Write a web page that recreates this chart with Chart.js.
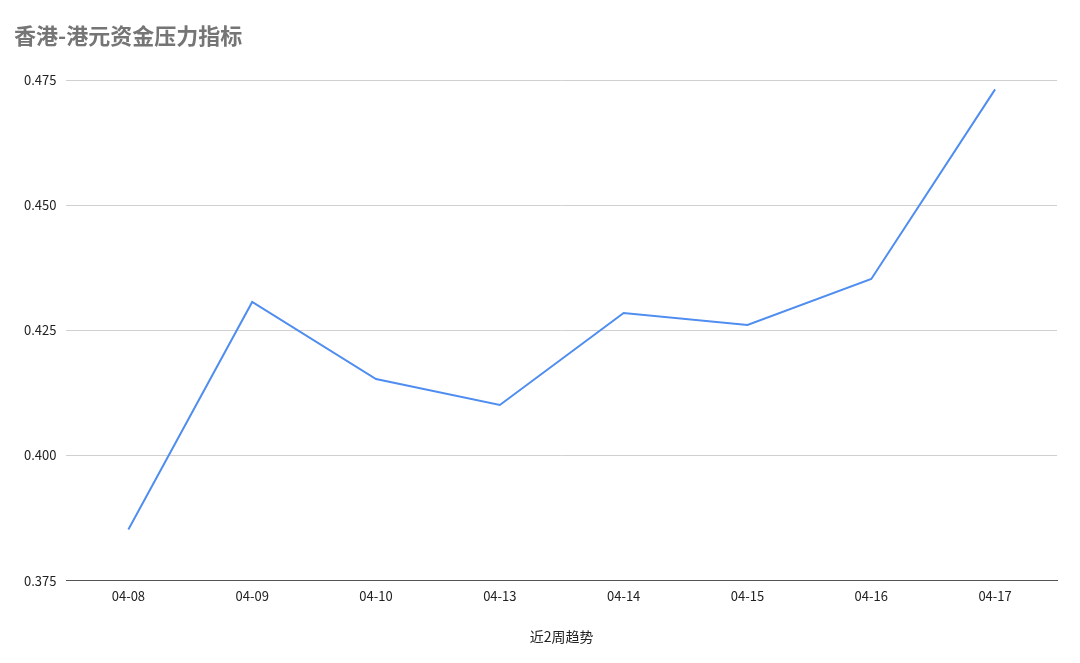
<!DOCTYPE html>
<html>
<head>
<meta charset="utf-8">
<script src="https://cdn.jsdelivr.net/npm/chart.js@4"></script>
<style>
  html, body { margin: 0; padding: 0; background: #fff; }
  #wrap { position: relative; width: 1080px; height: 663px; }
</style>
</head>
<body>
<div id="wrap"><canvas id="myChart" width="1080" height="663"></canvas></div>
<script>
// data
const categories = ["04-08", "04-09", "04-10", "04-13", "04-14", "04-15", "04-16", "04-17"];
const pressure = [0.3852, 0.4307, 0.4153, 0.4101, 0.4285, 0.4261, 0.4353, 0.4732];
const yTicks = [0.375, 0.400, 0.425, 0.450, 0.475];

const ctx = document.getElementById("myChart").getContext("2d");
new Chart(ctx, {
  type: "line",
  data: {
    labels: categories,
    datasets: [{
      label: "香港-港元资金压力指标",
      data: pressure,
      borderColor: "#4f8ef0",
      borderWidth: 2,
      pointRadius: 0,
      tension: 0,
      fill: false
    }]
  },
  options: {
    responsive: false,
    animation: false,
    layout: { padding: { left: 14, right: 23, top: 8, bottom: 14 } },
    plugins: {
      legend: { display: false },
      tooltip: { enabled: false },
      title: {
        display: true,
        text: "香港-港元资金压力指标",
        align: "start",
        color: "#757575",
        font: { family: "Noto Sans CJK SC", size: 22, weight: "bold" },
        padding: { top: 14, bottom: 32 }
      }
    },
    scales: {
      x: {
        offset: true,
        grid: { display: false, drawTicks: false },
        border: { color: "#555", width: 1 },
        ticks: { color: "#222", font: { family: "Noto Sans CJK SC", size: 13 }, padding: 8, maxRotation: 0 },
        title: {
          display: true,
          text: "近2周趋势",
          color: "#222",
          font: { family: "Noto Sans CJK SC", size: 14 },
          padding: { top: 16 }
        }
      },
      y: {
        min: 0.375,
        max: 0.475,
        afterBuildTicks: axis => { axis.ticks = yTicks.map(v => ({ value: v })); },
        grid: { color: "#d0d0d0", drawTicks: false },
        border: { display: false },
        ticks: {
          color: "#222",
          font: { family: "Noto Sans CJK SC", size: 13 },
          padding: 10,
          callback: v => v.toFixed(3)
        }
      }
    }
  }
});
</script>
</body>
</html>
